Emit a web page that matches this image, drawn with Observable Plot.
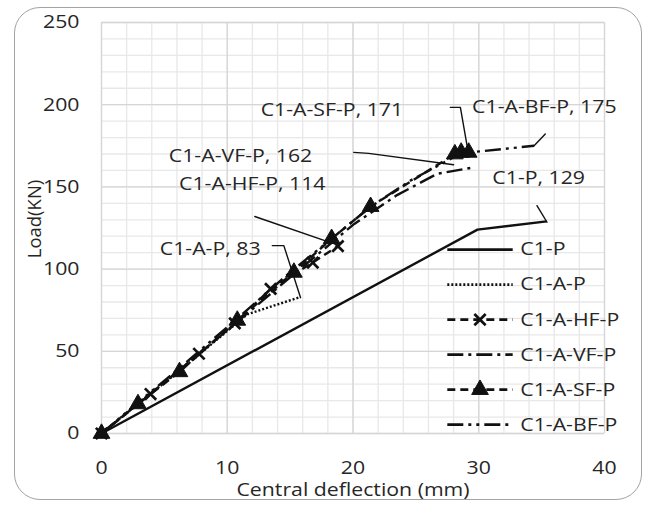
<!DOCTYPE html>
<html><head><meta charset="utf-8">
<script src="https://cdn.jsdelivr.net/npm/d3@7"></script>
<script src="https://cdn.jsdelivr.net/npm/@observablehq/plot@0.6"></script>
<style>
body{margin:0;background:#fff;}
#wrap{position:relative;width:650px;height:506px;overflow:hidden;}
#border{position:absolute;left:14px;top:7px;width:628px;height:493px;border:1.6px solid #a3a3a3;border-radius:26px;box-sizing:border-box;pointer-events:none;}
</style></head><body><div id="wrap"><div id="border"></div></div>
<script>
// ---- data ----
const seriesNames = ["C1-P", "C1-A-P", "C1-A-HF-P", "C1-A-VF-P", "C1-A-SF-P", "C1-A-BF-P"];

const c1P_defl = [0, 29.9, 35.4];
const c1P_load = [0, 124, 129];

const c1AP_defl = [0, 3.0, 6.2, 9.0, 11.6, 15.8];
const c1AP_load = [0, 19, 38, 56, 72.5, 83];

const c1AHF_defl = [0, 3.9, 7.75, 10.6, 13.45, 16.8, 18.8];
const c1AHF_load = [0, 24, 48.5, 67, 88, 104, 114];

const c1AVF_defl = [0, 5.0, 10.5, 15.0, 18.3, 20.1, 23.5, 26.7, 29.7];
const c1AVF_load = [0, 31, 66, 95, 116, 127.5, 145, 158, 162];

const c1ASF_defl = [0, 2.9, 6.2, 10.8, 15.3, 18.3, 21.4, 28.1, 28.6, 29.2];
const c1ASF_load = [0, 18, 37.5, 68.8, 98, 118.5, 138, 170, 171, 171];

const c1ABF_defl = [0, 3.0, 6.0, 10.5, 15.0, 18.3, 21.4, 24.6, 28.5, 29.3, 34.4];
const c1ABF_load = [0, 19.5, 38.5, 68, 98, 118.5, 138, 154, 170, 171, 175];

const xTicks = [0, 10, 20, 30, 40];
const yTicks = [0, 50, 100, 150, 200, 250];

// data labels (text, anchor point in data units) and their leader lines
const labelTexts = ["C1-P, 129", "C1-A-P, 83", "C1-A-HF-P, 114", "C1-A-VF-P, 162", "C1-A-SF-P, 171", "C1-A-BF-P, 175"];
const labelDefl = [31.08, 12.65, 17.82, 16.76, 12.66, 29.47];
const labelLoad = [155.6, 112.3, 151.8, 169.0, 196.8, 198.8];
const labelAnchor = ["start", "end", "end", "end", "start", "start"];

const leaderP_defl = [35.43, 34.63];   const leaderP_load = [128.5, 138.6];
const leaderAP_defl = [13.58, 14.5, 15.83]; const leaderAP_load = [114.3, 114.3, 82.6];
const leaderHF_defl = [12.19, 18.45]; const leaderHF_load = [132, 115.5];
const leaderVF_defl = [20.06, 21.25, 28.0]; const leaderVF_load = [171, 170.4, 163.5];
const leaderSF_defl = [27.74, 28.54, 29.07]; const leaderSF_load = [198.4, 198.4, 175.1];
const leaderBF_defl = [34.4, 35.29]; const leaderBF_load = [175, 182.2];

// ---- build ----
const zip = (xs, ys) => xs.map((x, i) => ({x, y: ys[i]}));
const series = [
  {name: seriesNames[0], pts: zip(c1P_defl, c1P_load), dash: null, marker: null},
  {name: seriesNames[1], pts: zip(c1AP_defl, c1AP_load), dash: "2,2", marker: null},
  {name: seriesNames[2], pts: zip(c1AHF_defl, c1AHF_load), dash: "8,5", marker: "times"},
  {name: seriesNames[3], pts: zip(c1AVF_defl, c1AVF_load), dash: "16,5,3,5", marker: null},
  {name: seriesNames[4], pts: zip(c1ASF_defl, c1ASF_load), dash: "8,5", marker: "triangle"},
  {name: seriesNames[5], pts: zip(c1ABF_defl, c1ABF_load), dash: "16,5,3,5,3,5", marker: null}
];
const leaders = [
  zip(leaderP_defl, leaderP_load), zip(leaderAP_defl, leaderAP_load), zip(leaderHF_defl, leaderHF_load),
  zip(leaderVF_defl, leaderVF_load), zip(leaderSF_defl, leaderSF_load), zip(leaderBF_defl, leaderBF_load)
];
const labels = labelTexts.map((t, i) => ({text: t, x: labelDefl[i], y: labelLoad[i], anchor: labelAnchor[i]}));

// legend layout (data units)
const LEG_X0 = 27.5, LEG_X1 = 32.7, LEG_TX = 33.3, LEG_Y0 = 111.9, LEG_STEP = 21.3;

const ink = "#111";
const textColor = "#262626";
const FS = 18.5;
const marks = [
  Plot.gridX(d3.range(0, 41, 2), {stroke: "#e8e8e8", strokeOpacity: 1, strokeWidth: 1.3}),
  Plot.gridY(d3.range(0, 251, 10), {stroke: "#e8e8e8", strokeOpacity: 1, strokeWidth: 1.3}),
  Plot.gridX(xTicks, {stroke: "#d6d6d6", strokeOpacity: 1, strokeWidth: 1.3}),
  Plot.gridY(yTicks, {stroke: "#d6d6d6", strokeOpacity: 1, strokeWidth: 1.3}),
  Plot.axisX({ticks: xTicks, tickSize: 0, tickPadding: 27, label: null, fontSize: FS, fill: textColor}),
  Plot.axisY({ticks: yTicks, tickSize: 0, tickPadding: 22, label: null, fontSize: FS, fill: textColor}),
  Plot.text(["Central deflection (mm)"], {frameAnchor: "bottom", dy: 57, textAnchor: "middle", lineAnchor: "middle", fontSize: FS, fill: textColor}),
  Plot.text(["Load(KN)"], {frameAnchor: "left", rotate: -90, dx: -66, dy: -9, textAnchor: "middle", lineAnchor: "middle", fontSize: FS, fill: textColor})
];
series.forEach((s, i) => {
  marks.push(Plot.line(s.pts, {x: "x", y: "y", stroke: ink, strokeWidth: 2.4, strokeDasharray: s.dash, strokeLinecap: "butt"}));
  const ly = LEG_Y0 - i * LEG_STEP;
  marks.push(Plot.line([{x: LEG_X0, y: ly}, {x: LEG_X1, y: ly}], {x: "x", y: "y", stroke: ink, strokeWidth: 2.7, strokeDasharray: s.dash, strokeLinecap: "butt"}));
  marks.push(Plot.text([s.name], {x: LEG_TX, y: ly, textAnchor: "start", lineAnchor: "middle", fontSize: FS, fill: textColor}));
});
series.forEach((s, i) => {
  const ly = LEG_Y0 - i * LEG_STEP;
  const lm = [{x: (LEG_X0 + LEG_X1) / 2, y: ly}];
  if (s.marker === "triangle") {
    marks.push(Plot.dot(s.pts, {x: "x", y: "y", symbol: "triangle", r: 6.2, fill: ink, stroke: ink, strokeWidth: 1}));
    marks.push(Plot.dot(lm, {x: "x", y: "y", symbol: "triangle", r: 6.2, fill: ink, stroke: ink, strokeWidth: 1}));
  } else if (s.marker === "times") {
    marks.push(Plot.dot(s.pts, {x: "x", y: "y", symbol: "times", r: 5.2, stroke: ink, strokeWidth: 2.7}));
    marks.push(Plot.dot(lm, {x: "x", y: "y", symbol: "times", r: 5.2, stroke: ink, strokeWidth: 2.7}));
  }
});
leaders.forEach(l => marks.push(Plot.line(l, {x: "x", y: "y", stroke: ink, strokeWidth: 1.4})));
marks.push(Plot.text(labels.filter(d => d.anchor === "start"), {x: "x", y: "y", text: "text", textAnchor: "start", lineAnchor: "middle", fontSize: FS, fill: textColor}));
marks.push(Plot.text(labels.filter(d => d.anchor === "end"), {x: "x", y: "y", text: "text", textAnchor: "end", lineAnchor: "middle", fontSize: FS, fill: textColor}));

const chart = Plot.plot({
  width: 650, height: 506,
  marginLeft: 101, marginRight: 46, marginTop: 22, marginBottom: 73,
  x: {domain: [0, 40]},
  y: {domain: [0, 250]},
  style: {fontFamily: "'Open Sans', sans-serif", fontSize: FS + "px", background: "transparent", overflow: "visible"},
  marks
});
document.getElementById("wrap").prepend(chart);

// the reference's lettering is slightly wide: stretch each horizontal text about its anchor
const SX = 1.15;
const NS = "http://www.w3.org/2000/svg";
Array.from(chart.querySelectorAll("text")).forEach(t => {
  const tr = t.getAttribute("transform") || "";
  if (/rotate/.test(tr)) return;
  const bb = t.getBBox();
  const list = t.transform && t.transform.baseVal;
  const c = list && list.numberOfItems ? list.consolidate() : null;
  const a = c ? c.matrix.a : 1, e = c ? c.matrix.e : 0;
  const anchor = getComputedStyle(t).textAnchor;
  const lx = anchor === "end" ? bb.x + bb.width : anchor === "middle" ? bb.x + bb.width / 2 : bb.x;
  const px = a * lx + e;
  const g = document.createElementNS(NS, "g");
  g.setAttribute("transform", `translate(${px},0) scale(${SX},1) translate(${-px},0)`);
  t.parentNode.insertBefore(g, t);
  g.appendChild(t);
});
</script>
</body></html>
